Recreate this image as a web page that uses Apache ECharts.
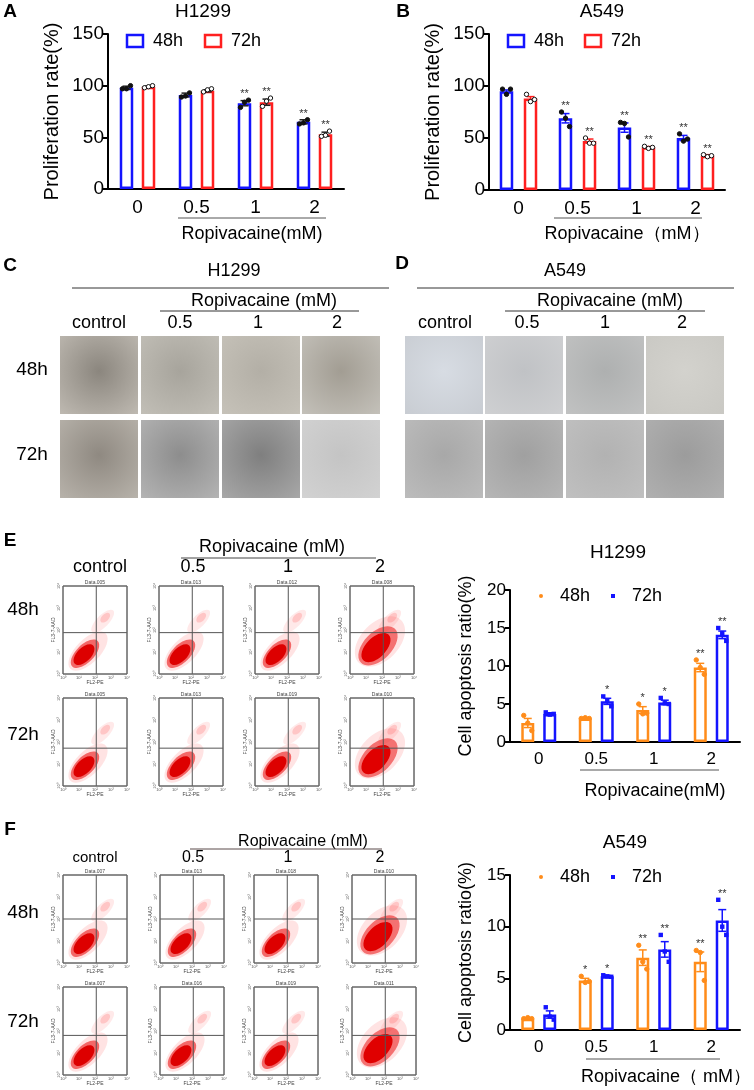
<!DOCTYPE html>
<html>
<head>
<meta charset="utf-8">
<script src="https://cdn.jsdelivr.net/npm/echarts@6/dist/echarts.min.js"></script>
<style>
html, body { margin: 0; padding: 0; background: #fff; }
#main { width: 754px; height: 1090px; }
</style>
</head>
<body>
<div id="main"></div>
<script>
// 数据
var doses = ['0', '0.5', '1', '2'];

// A  H1299 proliferation
var h1299Prolif48 = [98, 91, 83, 65];
var h1299Prolif48Sem = [1.5, 1.8, 2.5, 2];
var h1299Prolif48Pts = [[97, 97, 100], [89, 90, 93], [79, 84, 86], [63, 64, 67]];
var h1299Prolif72 = [99, 95, 84, 53];
var h1299Prolif72Sem = [0.6, 1, 3, 2];
var h1299Prolif72Pts = [[98, 99, 100], [94, 96, 97], [80, 85, 88], [51, 52, 56]];
var h1299ProlifStars = ['', '', '**', '**'];

// B  A549 proliferation
var a549Prolif48 = [95, 69, 60, 50];
var a549Prolif48Sem = [1.2, 4.5, 4.5, 2.5];
var a549Prolif48Pts = [[97, 92, 97], [75, 69, 61], [65, 64, 51], [54, 47, 49]];
var a549Prolif72 = [88, 47, 41, 33];
var a549Prolif72Sem = [1.8, 2, 0.8, 1];
var a549Prolif72Pts = [[92, 85, 87], [50, 45, 45], [42, 40, 41], [34, 32, 33]];
var a549ProlifStars = ['', '**', '**', '**'];

// E  H1299 apoptosis
var h1299Apop48 = [2.5, 3.1, 4.2, 9.8];
var h1299Apop48Sem = [0.6, 0.05, 0.45, 0.55];
var h1299Apop48Pts = [[3.5, 2.5, 1.5], [3.1, 3.2, 3.1], [5.0, 3.7, 3.8], [10.8, 9.8, 8.9]];
var h1299Apop48Stars = ['', '', '*', '**'];
var h1299Apop72 = [3.7, 5.35, 5.2, 14.1];
var h1299Apop72Sem = [0.15, 0.4, 0.3, 0.5];
var h1299Apop72Pts = [[3.9, 3.6, 3.7], [6.0, 5.5, 4.7], [5.8, 5.1, 5.0], [15.0, 14.3, 13.3]];
var h1299Apop72Stars = ['', '*', '*', '**'];

// F  A549 apoptosis
var a549Apop48 = [1.1, 4.8, 7.0, 6.6];
var a549Apop48Sem = [0.05, 0.2, 0.75, 0.95];
var a549Apop48Pts = [[1.1, 1.2, 1.1], [5.2, 4.6, 4.7], [8.2, 6.6, 5.9], [7.7, 7.5, 4.8]];
var a549Apop48Stars = ['', '*', '**', '**'];
var a549Apop72 = [1.5, 5.2, 7.8, 10.6];
var a549Apop72Sem = [0.35, 0.07, 0.75, 1.05];
var a549Apop72Pts = [[2.2, 1.3, 1.0], [5.3, 5.2, 5.15], [9.2, 7.6, 6.6], [12.6, 10.0, 9.2]];
var a549Apop72Stars = ['', '*', '**', '**'];

var FONT = 'Arial, "Liberation Sans", sans-serif';
var BLUE = '#1414ff', RED = '#ff1f1f', ORANGE = '#ff8c1a';

var myChart = echarts.init(document.getElementById('main'));

// 误差线 + 散点 + 星号
function errSeries(g, means, sems, pts, stars, off, o) {
  return {
    type: 'custom', xAxisIndex: g, yAxisIndex: g, z: 5, silent: true,
    data: means.map(function (m, i) { return [i, m]; }),
    renderItem: function (params, api) {
      var i = params.dataIndex;
      var hi = api.coord([i, means[i] + sems[i]]);
      var lo = api.coord([i, means[i] - sems[i]]);
      var x = api.coord([i, means[i]])[0] + off;
      var ls = { stroke: o.err, lineWidth: 1.5 };
      var kids = [
        { type: 'line', shape: { x1: x, y1: hi[1], x2: x, y2: lo[1] }, style: ls },
        { type: 'line', shape: { x1: x - 4, y1: hi[1], x2: x + 4, y2: hi[1] }, style: ls },
        { type: 'line', shape: { x1: x - 4, y1: lo[1], x2: x + 4, y2: lo[1] }, style: ls }
      ];
      var top = hi[1];
      pts[i].forEach(function (v, k) {
        var p = api.coord([i, v]);
        var px = x + (k - 1) * 4;
        top = Math.min(top, p[1] - 2.5);
        if (o.square) {
          kids.push({ type: 'rect', shape: { x: px - 2.2, y: p[1] - 2.2, width: 4.4, height: 4.4 }, style: { fill: o.dot } });
        } else {
          kids.push({ type: 'circle', shape: { cx: px, cy: p[1], r: 2.2 },
            style: { fill: o.hollow ? '#fff' : o.dot, stroke: o.dot, lineWidth: 1 } });
        }
      });
      if (stars[i]) {
        kids.push({ type: 'text', style: { text: stars[i], x: x, y: top + 2, align: 'center', verticalAlign: 'bottom',
          font: '11px ' + FONT, fill: '#333' } });
      }
      return { type: 'group', children: kids };
    }
  };
}

function barSeries(g, name, data, color, bw, gap) {
  return {
    type: 'bar', name: name, xAxisIndex: g, yAxisIndex: g, data: data,
    barWidth: bw, barGap: gap, silent: true,
    itemStyle: { color: '#fff', borderColor: color, borderWidth: 2.5 }
  };
}

function yAx(g, max, step, name, fs, gap) {
  return {
    type: 'value', gridIndex: g, min: 0, max: max, interval: step,
    name: name, nameLocation: 'middle', nameGap: gap, nameRotate: 90,
    nameTextStyle: { fontSize: fs + 1, color: '#000', fontFamily: FONT },
    axisLine: { show: true, lineStyle: { color: '#000', width: 2 } },
    axisTick: { show: true, length: 5, lineStyle: { color: '#000', width: 2 } },
    axisLabel: { fontSize: fs, color: '#000', fontFamily: FONT, margin: 4 },
    splitLine: { show: false }
  };
}

function xAx(g, fs) {
  return {
    type: 'category', gridIndex: g, data: doses,
    axisLine: { lineStyle: { color: '#000', width: 2 } },
    axisTick: { alignWithLabel: true, length: 6, lineStyle: { color: '#000', width: 2 } },
    axisLabel: { fontSize: fs, color: '#000', fontFamily: FONT, margin: 9 }
  };
}

// ---------- 图形装饰（显微镜图和流式图） ----------
var gfx = [];
function txt(s, x, y, fs, opt) {
  opt = opt || {};
  gfx.push({ type: 'text', x: x, y: y, rotation: opt.rot || 0, z: 10,
    style: { text: s, x: 0, y: 0, font: (opt.bold ? 'bold ' : '') + fs + 'px ' + FONT,
      fill: opt.color || '#000', align: opt.align || 'center', verticalAlign: 'middle' } });
}
function hline(x1, x2, y, c) {
  gfx.push({ type: 'line', z: 10, shape: { x1: x1, y1: y, x2: x2, y2: y }, style: { stroke: c || '#444', lineWidth: 1 } });
}
function blob(cx, cy, rx, ry, fill, z) {
  gfx.push({ type: 'ellipse', z: z, x: cx, y: cy, rotation: Math.PI / 4,
    shape: { cx: 0, cy: 0, rx: rx, ry: ry }, style: { fill: fill } });
}

// 面板字母
txt('A', 10, 12, 19, { bold: true });
txt('B', 403, 12, 19, { bold: true });
txt('C', 10, 266, 19, { bold: true });
txt('D', 402, 264, 19, { bold: true });
txt('E', 10, 541, 19, { bold: true });
txt('F', 10, 830, 19, { bold: true });

// A/B 标题与图例
txt('H1299', 203, 12, 19);
txt('A549', 602, 12, 19);
function boxLegend(x1, x2, y) {
  gfx.push({ type: 'rect', z: 10, shape: { x: x1, y: y - 6, width: 16, height: 12 }, style: { fill: '#fff', stroke: BLUE, lineWidth: 2.5 } });
  txt('48h', x1 + 26, y, 18, { align: 'left' });
  gfx.push({ type: 'rect', z: 10, shape: { x: x2, y: y - 6, width: 16, height: 12 }, style: { fill: '#fff', stroke: RED, lineWidth: 2.5 } });
  txt('72h', x2 + 26, y, 18, { align: 'left' });
}
boxLegend(127, 205, 41);
boxLegend(508, 585, 41);
hline(178, 326, 218, '#555');
txt('Ropivacaine(mM)', 252, 234, 18);
hline(554, 702, 218, '#555');
txt('Ropivacaine（mM）', 627, 234, 18);

// C / D 显微镜图
txt('H1299', 234, 271, 18);
hline(72, 389, 288, '#333');
txt('Ropivacaine (mM)', 264, 301, 18);
hline(160, 359, 311, '#333');
txt('control', 99, 323, 18); txt('0.5', 180, 323, 18); txt('1', 258, 323, 18); txt('2', 337, 323, 18);
txt('48h', 32, 370, 19); txt('72h', 32, 455, 19);

txt('A549', 565, 271, 18);
hline(417, 734, 288, '#333');
txt('Ropivacaine (mM)', 610, 301, 18);
hline(505, 705, 311, '#333');
txt('control', 445, 323, 18); txt('0.5', 527, 323, 18); txt('1', 605, 323, 18); txt('2', 682, 323, 18);

var microCols = [[60, 141, 222, 302], [405, 485, 566, 646]];
var microRows = [336, 420];
var microTones = [
  [['#8b867e', '#bfbab2'], ['#a7a49c', '#c2bfb7'], ['#b3afa6', '#c6c2b9'], ['#a29d93', '#c4c1ba']],
  [['#8f8981', '#b8b3ab'], ['#8d8d8d', '#b4b4b4'], ['#7f7f7f', '#a8a8a8'], ['#c4c4c4', '#d2d2d2']],
  [['#d7dce3', '#c8ccd2'], ['#c0c2c5', '#cfd0d2'], ['#aeb0b0', '#c1c2c2'], ['#d3d2cd', '#c9c8c3']],
  [['#a8a8a8', '#bcbcbc'], ['#a0a0a0', '#b6b6b6'], ['#b2b2b2', '#c0c0c0'], ['#9c9c9c', '#b0b0b0']]
];
microCols.forEach(function (cols, p) {
  microRows.forEach(function (y, r) {
    cols.forEach(function (x, c) {
      var t = microTones[p * 2 + r][c];
      gfx.push({ type: 'rect', z: 1, shape: { x: x, y: y, width: 78, height: 78 },
        style: { fill: { type: 'radial', x: 0.5, y: 0.45, r: 0.75,
          colorStops: [{ offset: 0, color: t[0] }, { offset: 1, color: t[1] }] } } });
    });
  });
});

// E / F 流式图
function flowPlot(x, y, w, h, title, big, hy) {
  var vx = x + w * 0.52, vy = y + h * hy;
  gfx.push({ type: 'rect', z: 2, shape: { x: x, y: y, width: w, height: h }, style: { fill: '#fff', stroke: '#666', lineWidth: 1 } });
  // 稀疏区域
  blob(x + w * 0.62, y + h * 0.4, 15, 6, 'rgba(255,70,70,0.12)', 3);
  blob(x + w * 0.66, y + h * 0.36, 6, 3.5, 'rgba(255,60,60,0.2)', 3);
  if (big) {
    blob(x + 30, y + h * 0.63, 30, 19, 'rgba(255,60,60,0.14)', 3);
    blob(x + 28, y + h * 0.68, 24, 14, 'rgba(235,20,20,0.55)', 3);
    blob(x + 26, y + h * 0.7, 18, 10, '#e00000', 3);
  } else {
    blob(x + 25, y + h * 0.74, 25, 12, 'rgba(255,60,60,0.14)', 3);
    blob(x + 22, y + h * 0.77, 18, 9, 'rgba(235,20,20,0.6)', 3);
    blob(x + 21, y + h * 0.78, 13, 7, '#dd0000', 3);
  }
  gfx.push({ type: 'line', z: 4, shape: { x1: vx, y1: y, x2: vx, y2: y + h }, style: { stroke: '#555', lineWidth: 1 } });
  gfx.push({ type: 'line', z: 4, shape: { x1: x, y1: vy, x2: x + w, y2: vy }, style: { stroke: '#555', lineWidth: 1 } });
  gfx.push({ type: 'text', z: 4, x: x + w / 2, y: y - 3, style: { text: title, font: '5px ' + FONT, fill: '#444', align: 'center', verticalAlign: 'middle' } });
  gfx.push({ type: 'text', z: 4, x: x + w / 2, y: y + h + 9, style: { text: 'FL2-PE', font: '5px ' + FONT, fill: '#444', align: 'center', verticalAlign: 'middle' } });
  gfx.push({ type: 'text', z: 4, x: x - 9, y: y + h / 2, rotation: Math.PI / 2, style: { text: 'FL3-7-AAD', font: '5px ' + FONT, fill: '#444', align: 'center', verticalAlign: 'middle' } });
  ['10⁰', '10¹', '10²', '10³', '10⁴'].forEach(function (s, k) {
    gfx.push({ type: 'text', z: 4, x: x + w * k / 4, y: y + h + 4, style: { text: s, font: '4px ' + FONT, fill: '#555', align: 'center', verticalAlign: 'middle' } });
    gfx.push({ type: 'text', z: 4, x: x - 4, y: y + h - h * k / 4, rotation: Math.PI / 2, style: { text: s, font: '4px ' + FONT, fill: '#555', align: 'center', verticalAlign: 'middle' } });
  });
  // 帧在最上层
  gfx.push({ type: 'rect', z: 5, shape: { x: x, y: y, width: w, height: h }, style: { fill: 'none', stroke: '#666', lineWidth: 1 } });
}

var flowColsE = [63, 159, 255, 350];
var flowColsF = [63, 160, 254, 352];
var flowTitlesE = [['Data.005', 'Data.013', 'Data.012', 'Data.008'], ['Data.005', 'Data.013', 'Data.019', 'Data.010']];
var flowTitlesF = [['Data.007', 'Data.013', 'Data.018', 'Data.010'], ['Data.007', 'Data.016', 'Data.019', 'Data.011']];
[586, 698].forEach(function (y, r) {
  flowColsE.forEach(function (x, c) { flowPlot(x, y, 64, 88, flowTitlesE[r][c], c === 3, r === 0 ? 0.53 : 0.57); });
});
[875, 987].forEach(function (y, r) {
  flowColsF.forEach(function (x, c) { flowPlot(x, y, 64, 88, flowTitlesF[r][c], c === 3, r === 0 ? 0.5 : 0.55); });
});

txt('Ropivacaine (mM)', 272, 547, 18);
hline(181, 376, 558, '#444');
txt('control', 100, 567, 18); txt('0.5', 193, 567, 18); txt('1', 288, 567, 18); txt('2', 380, 567, 18);
txt('48h', 23, 610, 19); txt('72h', 23, 735, 19);

txt('Ropivacaine (mM)', 303, 842, 16);
hline(190, 382, 849, '#5a4a4a');
txt('control', 95, 858, 15); txt('0.5', 193, 858, 16); txt('1', 288, 858, 16); txt('2', 380, 858, 16);
txt('48h', 23, 913, 19); txt('72h', 23, 1022, 19);

// E / F 柱图标题与图例
txt('H1299', 618, 553, 19);
txt('A549', 625, 843, 19);
function dotLegend(y) {
  gfx.push({ type: 'circle', z: 10, shape: { cx: 541, cy: y, r: 2 }, style: { fill: ORANGE } });
  txt('48h', 560, y, 18, { align: 'left' });
  gfx.push({ type: 'rect', z: 10, shape: { x: 611, y: y - 2, width: 4, height: 4 }, style: { fill: BLUE } });
  txt('72h', 632, y, 18, { align: 'left' });
}
dotLegend(596);
dotLegend(877);
hline(580, 719, 770, '#555');
txt('Ropivacaine(mM)', 655, 791, 18);
hline(586, 720, 1059, '#555');
txt('Ropivacaine（ mM）', 666, 1077, 18);

// ---------- 配置 ----------
var option = {
  animation: false,
  grid: [
    { left: 108, top: 34, width: 236, height: 155 },
    { left: 489, top: 34, width: 236, height: 156 },
    { left: 510, top: 590, width: 230, height: 152 },
    { left: 510, top: 875, width: 230, height: 155 }
  ],
  xAxis: [xAx(0, 19), xAx(1, 19), xAx(2, 17), xAx(3, 17)],
  yAxis: [
    yAx(0, 150, 50, 'Proliferation rate(%)', 19, 46),
    yAx(1, 150, 50, 'Proliferation rate(%)', 19, 46),
    yAx(2, 20, 5, 'Cell apoptosis ratio(%)', 17, 35),
    yAx(3, 15, 5, 'Cell apoptosis ratio(%)', 17, 35)
  ],
  series: [
    barSeries(0, '48h', h1299Prolif48, BLUE, 13.5, '63%'),
    barSeries(0, '72h', h1299Prolif72, RED, 13.5, '63%'),
    errSeries(0, h1299Prolif48, h1299Prolif48Sem, h1299Prolif48Pts, h1299ProlifStars, -11, { err: '#222', dot: '#111' }),
    errSeries(0, h1299Prolif72, h1299Prolif72Sem, h1299Prolif72Pts, h1299ProlifStars, 11, { err: '#222', dot: '#111', hollow: true }),

    barSeries(1, '48h', a549Prolif48, BLUE, 13.5, '78%'),
    barSeries(1, '72h', a549Prolif72, RED, 13.5, '78%'),
    errSeries(1, a549Prolif48, a549Prolif48Sem, a549Prolif48Pts, a549ProlifStars, -12, { err: BLUE, dot: '#111' }),
    errSeries(1, a549Prolif72, a549Prolif72Sem, a549Prolif72Pts, a549ProlifStars, 12, { err: RED, dot: '#111', hollow: true }),

    barSeries(2, '48h', h1299Apop48, ORANGE, 13, '69%'),
    barSeries(2, '72h', h1299Apop72, BLUE, 13, '69%'),
    errSeries(2, h1299Apop48, h1299Apop48Sem, h1299Apop48Pts, h1299Apop48Stars, -11, { err: ORANGE, dot: ORANGE }),
    errSeries(2, h1299Apop72, h1299Apop72Sem, h1299Apop72Pts, h1299Apop72Stars, 11, { err: BLUE, dot: BLUE, square: true }),

    barSeries(3, '48h', a549Apop48, ORANGE, 13, '69%'),
    barSeries(3, '72h', a549Apop72, BLUE, 13, '69%'),
    errSeries(3, a549Apop48, a549Apop48Sem, a549Apop48Pts, a549Apop48Stars, -11, { err: ORANGE, dot: ORANGE }),
    errSeries(3, a549Apop72, a549Apop72Sem, a549Apop72Pts, a549Apop72Stars, 11, { err: BLUE, dot: BLUE, square: true })
  ],
  graphic: gfx
};

myChart.setOption(option);
</script>
</body>
</html>
